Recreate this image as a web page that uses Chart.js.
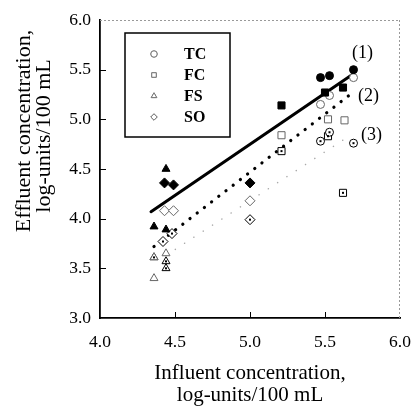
<!DOCTYPE html>
<html>
<head>
<meta charset="utf-8">
<script src="https://cdn.jsdelivr.net/npm/chart.js@4.4.1/dist/chart.umd.min.js"></script>
<style>
  html, body { margin: 0; padding: 0; background: #fff; overflow: hidden; }
  canvas { display: block; }
</style>
</head>
<body>
<canvas id="chart" width="413" height="407"></canvas>
<script>
// [influent, effluent] pairs
// (1) filled markers, solid regression line
const tcFilled = [[5.47, 5.42], [5.53, 5.44], [5.69, 5.50]];
const fcFilled = [[5.21, 5.14], [5.50, 5.27], [5.62, 5.32]];
const fsFilled = [[4.44, 4.50], [4.36, 3.92], [4.44, 3.89]];
const soFilled = [[4.43, 4.36], [4.49, 4.34], [5.00, 4.36]];
// (2) open markers, dotted line
const tcOpen = [[5.47, 5.15], [5.53, 5.24], [5.69, 5.42]];
const fcOpen = [[5.21, 4.84], [5.52, 5.00], [5.63, 4.99]];
const fsOpen = [[4.36, 3.61], [4.36, 3.40], [4.44, 3.65]];
const soOpen = [[4.43, 4.08], [4.49, 4.08], [5.00, 4.18]];
// (3) open markers with centre dot, faint dotted line
const tcDot = [[5.47, 4.78], [5.53, 4.87], [5.69, 4.76]];
const fcDot = [[5.21, 4.68], [5.52, 4.83], [5.62, 4.26]];
const fsDot = [[4.44, 3.57], [4.44, 3.50], [4.36, 3.61]];
const soDot = [[4.42, 3.77], [4.48, 3.85], [5.00, 3.99]];
// fitted lines, end points
const line1 = [[4.34, 4.07], [5.69, 5.46]];
const line2 = [[4.36, 3.72], [5.66, 5.24]];
const line3 = [[4.44, 3.63], [5.68, 4.85]];
const lineLabels = [['(1)', 5.75, 5.67], ['(2)', 5.79, 5.23], ['(3)', 5.81, 4.84]];
const legendNames = ['TC', 'FC', 'FS', 'SO'];
const legendStyles = ['circle', 'rect', 'triangle', 'rectRot'];
const xTicks = [4.0, 4.5, 5.0, 5.5, 6.0];
const yTicks = [3.0, 3.5, 4.0, 4.5, 5.0, 5.5, 6.0];
const yTitle = ['Effluent concentration,', 'log-units/100 mL'];

const serif = "'Liberation Serif', 'DejaVu Serif', serif";
const toPts = arr => arr.map(p => ({x: p[0], y: p[1]}));
const sizes = {circle: 4, rect: 5, triangle: 4.6, rectRot: 5};

function markers(data, style, kind) {
  const filled = kind === 'filled';
  return {
    type: 'scatter',
    data: toPts(data),
    pointStyle: style,
    pointRadius: sizes[style],
    pointBackgroundColor: filled ? '#000' : '#fff',
    pointBorderColor: kind === 'open' ? '#666' : '#000',
    pointBorderWidth: 1,
    centreDot: kind === 'dot',
    order: 1
  };
}

function fitLine(data, color, width, dash) {
  return {
    type: 'line',
    data: toPts(data),
    borderColor: color,
    borderWidth: width,
    borderDash: dash,
    borderCapStyle: 'round',
    pointRadius: 0,
    fill: false,
    order: 2
  };
}

const decor = {
  id: 'decor',
  afterDatasetsDraw(chart) {
    const {ctx, chartArea: a, scales: {x, y}} = chart;
    ctx.save();
    // centre dots on group (3)
    chart.data.datasets.forEach((ds, i) => {
      if (!ds.centreDot) return;
      chart.getDatasetMeta(i).data.forEach(el => {
        ctx.fillStyle = '#000';
        ctx.fillRect(el.x - 1, el.y - 1, 2, 2);
      });
    });
    // faint top and right frame
    ctx.strokeStyle = '#999';
    ctx.lineWidth = 1;
    ctx.setLineDash([2, 2]);
    ctx.beginPath();
    ctx.moveTo(a.left, a.top + 0.5);
    ctx.lineTo(a.right, a.top + 0.5);
    ctx.moveTo(a.right - 0.5, a.top);
    ctx.lineTo(a.right - 0.5, a.bottom);
    ctx.stroke();
    ctx.setLineDash([]);
    // inward ticks
    ctx.strokeStyle = '#000';
    ctx.lineWidth = 1;
    ctx.beginPath();
    xTicks.slice(1, -1).forEach(v => {
      const px = Math.round(x.getPixelForValue(v)) + 0.5;
      ctx.moveTo(px, a.bottom);
      ctx.lineTo(px, a.bottom - 6);
    });
    yTicks.slice(1, -1).forEach(v => {
      const py = Math.round(y.getPixelForValue(v)) + 0.5;
      ctx.moveTo(a.left, py);
      ctx.lineTo(a.left + 6, py);
    });
    ctx.stroke();
    // line labels
    ctx.fillStyle = '#000';
    ctx.font = '18px ' + serif;
    ctx.textAlign = 'center';
    ctx.textBaseline = 'middle';
    lineLabels.forEach(l => {
      ctx.fillText(l[0], x.getPixelForValue(l[1]), y.getPixelForValue(l[2]));
    });
    // y axis title, rotated
    ctx.save();
    ctx.translate(24, 133);
    ctx.rotate(-Math.PI / 2);
    ctx.font = '22px ' + serif;
    ctx.fillText(yTitle[0], 2, 0);
    ctx.fillText(yTitle[1], -3, 20);
    ctx.restore();
    // legend box
    const bx = 125, by = 33, bw = 105, bh = 104;
    ctx.lineWidth = 1.5;
    ctx.strokeStyle = '#000';
    ctx.strokeRect(bx, by, bw, bh);
    ctx.font = 'bold 16px ' + serif;
    ctx.textAlign = 'left';
    legendNames.forEach((name, i) => {
      const cy = by + 21 + i * 21;
      ctx.fillStyle = '#000';
      ctx.fillText(name, bx + 59, cy + 1);
      ctx.fillStyle = '#fff';
      ctx.strokeStyle = '#777';
      ctx.lineWidth = 1;
      Chart.helpers.drawPoint(ctx, {pointStyle: legendStyles[i], radius: 3.2, borderWidth: 1}, bx + 29, cy);
      ctx.fill();
      ctx.stroke();
    });
    ctx.restore();
  }
};

new Chart(document.getElementById('chart'), {
  data: {
    datasets: [
      markers(tcFilled, 'circle', 'filled'),
      markers(fcFilled, 'rect', 'filled'),
      markers(fsFilled, 'triangle', 'filled'),
      markers(soFilled, 'rectRot', 'filled'),
      markers(tcOpen, 'circle', 'open'),
      markers(fcOpen, 'rect', 'open'),
      markers(fsOpen, 'triangle', 'open'),
      markers(soOpen, 'rectRot', 'open'),
      markers(tcDot, 'circle', 'dot'),
      markers(fcDot, 'rect', 'dot'),
      markers(fsDot, 'triangle', 'dot'),
      markers(soDot, 'rectRot', 'dot'),
      fitLine(line1, '#000', 3, []),
      fitLine(line2, '#000', 3.2, [0.1, 9]),
      fitLine(line3, '#aaa', 1.5, [0.1, 11])
    ]
  },
  options: {
    responsive: false,
    animation: false,
    layout: {padding: {top: 20, right: 13}},
    plugins: {legend: {display: false}, tooltip: {enabled: false}},
    scales: {
      x: {
        type: 'linear',
        min: 4.0, max: 6.0,
        afterBuildTicks: s => { s.ticks = xTicks.map(v => ({value: v})); },
        afterFit: s => { s.height = 89; s.paddingRight = 0; },
        grid: {display: false, drawTicks: false},
        border: {display: true, color: '#000', width: 1.8},
        ticks: {
          padding: 14,
          color: '#000',
          font: {family: serif, size: 17.5},
          callback: v => v.toFixed(1)
        },
        title: {
          display: true,
          text: ['Influent concentration,', 'log-units/100 mL'],
          color: '#000',
          font: {family: serif, size: 21, lineHeight: 1.05},
          padding: {top: 0, bottom: 0}
        }
      },
      y: {
        type: 'linear',
        min: 3.0, max: 6.0,
        afterBuildTicks: s => { s.ticks = yTicks.map(v => ({value: v})); },
        afterFit: s => { s.width = 100; },
        grid: {display: false, drawTicks: false},
        border: {display: true, color: '#000', width: 1.8},
        ticks: {
          padding: 9,
          color: '#000',
          font: {family: serif, size: 17.5},
          callback: v => v.toFixed(1)
        },
        title: {display: false}
      }
    }
  },
  plugins: [decor]
});
</script>
</body>
</html>
